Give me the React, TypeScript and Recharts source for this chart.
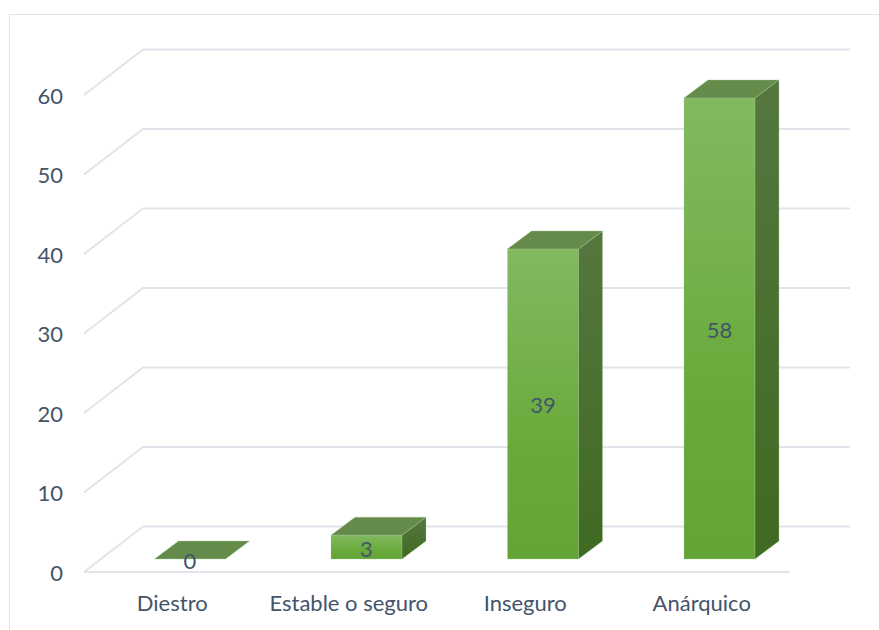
import { BarChart, Bar, XAxis, YAxis, CartesianGrid, LabelList } from 'recharts';

const categories = ['Diestro', 'Estable o seguro', 'Inseguro', 'Anárquico'];
const values = [0, 3, 39, 58];
const yTicks = [0, 10, 20, 30, 40, 50, 60];

const chartData = categories.map((name, i) => ({ name, value: values[i] }));

const FONT = 'Lato, sans-serif';
const TEXT = '#44546a';
const GRID = '#e1e4ea';
// how far the bars sit from the front of the floor, and how deep they are
const OFFSET_X = 17.5;
const OFFSET_Y = 13;
const DEPTH_X = 24;
const DEPTH_Y = 18;

function Box3D(props: any) {
  const { x, y, width, height } = props;
  const left = x + OFFSET_X;
  const right = left + width;
  const top = y - OFFSET_Y;
  const bottom = top + height;
  const edge = { stroke: '#a9cf92', strokeWidth: 0.5, strokeOpacity: 0.7 };
  return (
    <g>
      {height > 0 && (
        <>
          <rect x={left} y={top} width={width} height={height} fill="url(#barFront)" {...edge} />
          <path
            d={`M${right},${top} L${right + DEPTH_X},${top - DEPTH_Y} L${right + DEPTH_X},${bottom - DEPTH_Y} L${right},${bottom} Z`}
            fill="url(#barSide)"
            {...edge}
          />
        </>
      )}
      <path
        d={`M${left},${top} L${left + DEPTH_X},${top - DEPTH_Y} L${right + DEPTH_X},${top - DEPTH_Y} L${right},${top} Z`}
        fill="#658b4b"
        {...edge}
      />
    </g>
  );
}

function WallLine(props: any) {
  const { x1, x2, y1, index, offset } = props;
  const isFloor = Math.abs(y1 - (offset.top + offset.height)) < 1;
  const backY = y1 - 45.5;
  return (
    <g key={index} fill="none" stroke={GRID} strokeWidth={2}>
      <path d={`M${x1},${y1} L${x1 + 59},${backY} L${x2 + 60},${backY}`} />
      {isFloor && <path d={`M${x1},${y1} L${x2},${y1}`} />}
    </g>
  );
}

function BarValue(props: any) {
  const { x, y, width, height, value } = props;
  return (
    <text
      x={x + width / 2 + OFFSET_X}
      y={y + height / 2 - OFFSET_Y + 1}
      textAnchor="middle"
      dominantBaseline="central"
      fontFamily={FONT}
      fontSize={22}
      fill={TEXT}
    >
      {value}
    </text>
  );
}

export default function App() {
  return (
    <div style={{ position: 'absolute', left: 0, top: 0, width: 879, height: 630, overflow: 'hidden', background: '#fff' }}>
      <div
        style={{
          position: 'absolute',
          left: 9,
          top: 14,
          width: 880,
          height: 640,
          border: '1px solid #e0e3e8',
        }}
      />
      <BarChart
        width={879}
        height={630}
        data={chartData}
        margin={{ top: 95, right: 89, bottom: 0, left: 0 }}
        barSize={71}
        style={{ position: 'absolute', left: 0, top: 0 }}
      >
        <defs>
          <linearGradient id="barFront" x1="0" y1="0" x2="0" y2="1">
            <stop offset="0%" stopColor="#82b960" />
            <stop offset="65%" stopColor="#68aa3a" />
            <stop offset="100%" stopColor="#64a436" />
          </linearGradient>
          <linearGradient id="barSide" x1="0" y1="0" x2="0" y2="1">
            <stop offset="0%" stopColor="#55773f" />
            <stop offset="100%" stopColor="#3f6a22" />
          </linearGradient>
        </defs>
        <CartesianGrid vertical={false} horizontal={(p: any) => <WallLine {...p} />} />
        <XAxis
          dataKey="name"
          height={58}
          axisLine={false}
          tickLine={false}
          interval={0}
          tickMargin={17}
          tick={{ fontFamily: FONT, fontSize: 22, fill: TEXT }}
        />
        <YAxis
          width={84}
          domain={[0, 60]}
          ticks={yTicks}
          axisLine={false}
          tickLine={false}
          tickMargin={15}
          tick={{ fontFamily: FONT, fontSize: 22, fill: TEXT, dy: 1 }}
        />
        <Bar dataKey="value" shape={<Box3D />} isAnimationActive={false}>
          <LabelList dataKey="value" content={<BarValue />} />
        </Bar>
      </BarChart>
    </div>
  );
}
